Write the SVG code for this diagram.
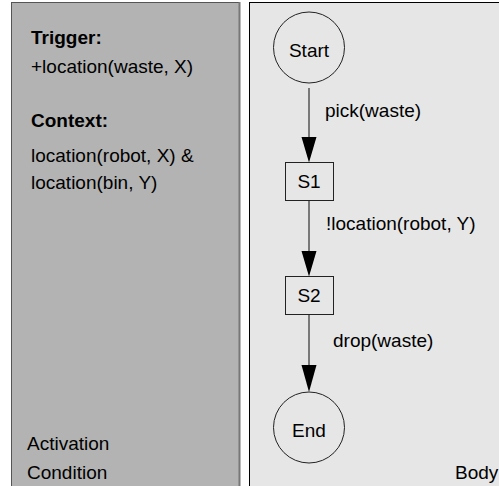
<svg xmlns="http://www.w3.org/2000/svg" width="499" height="486" viewBox="0 0 499 486">
<defs>
<style>
text{font-family:"Liberation Sans",Arial,Helvetica,sans-serif;font-size:19px;fill:#000}
.b{font-weight:bold}
.mid{text-anchor:middle}
.node{fill:none;stroke:#222;stroke-width:1}
.edge{stroke:#555;stroke-width:1.5;fill:none}
.head{fill:#000;stroke:none}
</style>
</defs>
<rect x="11.5" y="2.5" width="228" height="495" fill="#b3b3b3" stroke="#555" stroke-width="1"/>
<line x1="239.5" y1="2" x2="239.5" y2="486" stroke="#777" stroke-width="2"/>
<rect x="249.5" y="2.5" width="260" height="495" fill="#e6e6e6" stroke="#000" stroke-width="1"/>
<g id="activation-condition">
<text x="31" y="44" class="b">Trigger:</text>
<text x="31" y="73">+location(waste, X)</text>
<text x="31" y="127" class="b">Context:</text>
<text x="31" y="162">location(robot, X) &amp;</text>
<text x="31" y="189">location(bin, Y)</text>
<text x="27" y="450">Activation</text>
<text x="27" y="479">Condition</text>
</g>
<text x="455" y="479">Body</text>
<g id="connectors">
<line class="edge" x1="309" y1="88" x2="309" y2="140"/>
<polygon class="head" points="301.5,137 316.5,137 309,162.5"/>
<text x="325" y="117">pick(waste)</text>
<line class="edge" x1="309" y1="201" x2="309" y2="254"/>
<polygon class="head" points="301.5,251 316.5,251 309,276.5"/>
<text x="326" y="230">!location(robot, Y)</text>
<line class="edge" x1="309" y1="315" x2="309" y2="368"/>
<polygon class="head" points="301.5,365 316.5,365 309,392"/>
<text x="333" y="347">drop(waste)</text>
</g>
<g id="start">
<circle class="node" cx="309" cy="47.5" r="35.5"/>
<text x="309" y="57" class="mid">Start</text>
</g>
<g id="s1">
<rect class="node" x="285.5" y="162.5" width="48" height="38"/>
<text x="309" y="188" class="mid">S1</text>
</g>
<g id="s2">
<rect class="node" x="285.5" y="276.5" width="48" height="38"/>
<text x="309" y="302" class="mid">S2</text>
</g>
<g id="end">
<circle class="node" cx="309" cy="427.5" r="35.5"/>
<text x="309" y="437" class="mid">End</text>
</g>
</svg>
